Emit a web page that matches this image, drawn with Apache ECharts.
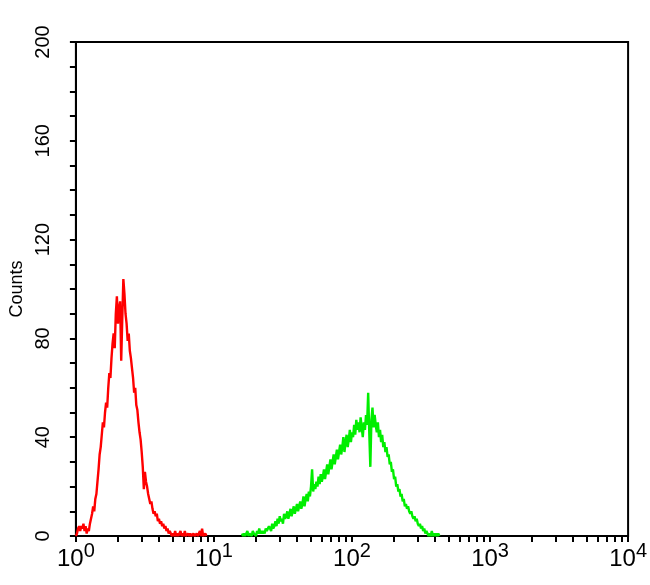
<!DOCTYPE html>
<html>
<head>
<meta charset="utf-8">
<script src="https://cdn.jsdelivr.net/npm/echarts@6/dist/echarts.min.js"></script>
<style>html,body{margin:0;padding:0;background:#fff}#c{width:650px;height:585px}</style>
</head>
<body>
<div id="c"></div>
<script>
// Channels: 128 channels per decade, channel c sits at intensity 10^(c/128)
var channelsPerDecade = 128;
var redStartChannel = 0;
var redCounts = [0,1,3,4,2,4,3,5,2,4,1,3,2,5,7,9,12,10,15,17,22,27,33,36,41,46,44,50,54,52,60,66,64,72,78,82,76,90,97,86,92,95,71,88,104,98,90,86,79,82,75,72,68,64,58,60,53,51,46,42,39,34,28,19,26,22,20,17,15,13,14,11,9,10,8,9,6,7,5,6,4,5,3,4,2,3,1,2,1,0,1,0,2,0,1,0,1,2,0,1,0,2,0,0,1,0,1,0,0,1,0,0,1,0,0,2,0,3,0,0,1,0];
var greenStartChannel = 154;
var greenCounts = [1,0,1,0,1,2,0,1,1,0,2,1,1,0,2,1,3,1,2,1,2,1,3,2,2,4,3,2,5,3,4,6,4,7,5,8,6,7,5,9,7,8,10,7,9,11,8,10,12,9,11,13,10,12,14,11,13,16,12,15,17,14,18,16,20,27,18,21,19,22,20,24,21,25,22,24,27,23,26,29,25,28,31,27,30,33,29,32,35,31,34,37,33,36,40,34,38,41,36,39,43,38,42,40,45,41,47,43,46,42,48,44,40,46,43,49,45,58,42,28,47,52,44,49,45,42,46,40,43,38,41,36,38,34,36,32,33,29,30,26,27,23,24,20,21,18,19,16,17,14,15,12,13,11,12,10,9,10,8,7,8,6,7,5,4,5,3,4,2,3,1,2,1,0,1,0,2,0,1,0,1,0,1,0];
var yMajorTicks = [0,40,80,120,160,200];
var yMinorTicks = [0,10,20,30,40,50,60,70,80,90,100,110,120,130,140,150,160,170,180,190,200];
var xDecades = [1,10,100,1000,10000];
var xMinorTicks = [1,2,3,4,5,6,7,8,9,10,20,30,40,50,60,70,80,90,100,200,300,400,500,600,700,800,900,1000,2000,3000,4000,5000,6000,7000,8000,9000,10000];
var yAxisTitle = 'Counts';

function toPairs(start, counts){
  return counts.map(function(v,i){ return [Math.pow(10,(start+i)/channelsPerDecade), v]; });
}

var chart = echarts.init(document.getElementById('c'), null, {renderer:'canvas'});
chart.setOption({
  animation:false,
  backgroundColor:'#fff',
  grid:{left:72,right:21,top:42,bottom:49,show:true,borderColor:'#000',borderWidth:2,backgroundColor:'transparent'},
  xAxis:{
    type:'log', logBase:10, min:1, max:10000,
    axisLine:{show:true,onZero:false,lineStyle:{color:'#000',width:2}},
    axisTick:{show:true,inside:false,length:6,lineStyle:{color:'#000',width:2},customValues:xMinorTicks},
    minorTick:{show:false},
    splitLine:{show:false},
    axisLabel:{
      customValues:xDecades,
      margin:5,
      color:'#000',
      fontFamily:'Liberation Sans, Arial, sans-serif',
      formatter:function(v){ var e=Math.round(Math.log10(v)); return '{b|10}{s|'+e+'}'; },
      rich:{
        b:{fontSize:24,fontFamily:'Liberation Sans, Arial, sans-serif',color:'#000',verticalAlign:'bottom',lineHeight:30},
        s:{fontSize:20,fontFamily:'Liberation Sans, Arial, sans-serif',color:'#000',verticalAlign:'top',lineHeight:30,padding:[0,0,12,0]}
      }
    }
  },
  yAxis:{
    type:'value', min:0, max:200,
    name:yAxisTitle, nameLocation:'middle', nameRotate:90, nameGap:49,
    nameTextStyle:{fontSize:18,fontFamily:'Liberation Sans, Arial, sans-serif',color:'#000'},
    axisLine:{show:true,lineStyle:{color:'#000',width:2}},
    axisTick:{show:true,length:6,lineStyle:{color:'#000',width:2},customValues:yMinorTicks},
    splitLine:{show:false},
    axisLabel:{customValues:yMajorTicks,rotate:90,margin:22,fontSize:20,fontFamily:'Liberation Sans, Arial, sans-serif',color:'#000'}
  },
  series:[
    {type:'line',data:toPairs(redStartChannel,redCounts),showSymbol:false,symbol:'none',lineStyle:{color:'#ff0000',width:2.4},z:3},
    {type:'line',data:toPairs(greenStartChannel,greenCounts),showSymbol:false,symbol:'none',lineStyle:{color:'#00ee00',width:2.4},z:3}
  ]
});
</script>
</body>
</html>
